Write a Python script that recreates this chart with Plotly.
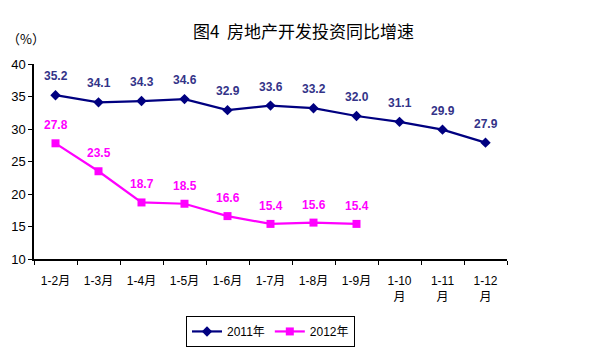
import plotly.graph_objects as go

categories = ["1-2月", "1-3月", "1-4月", "1-5月", "1-6月", "1-7月", "1-8月", "1-9月", "1-10<br>月", "1-11<br>月", "1-12<br>月"]
v2011 = [35.2, 34.1, 34.3, 34.6, 32.9, 33.6, 33.2, 32.0, 31.1, 29.9, 27.9]
v2012 = [27.8, 23.5, 18.7, 18.5, 16.6, 15.4, 15.6, 15.4]

FONT = "Liberation Sans, Arial, Noto Sans CJK SC"
navy = "#000080"
navy_txt = "#333388"
mag = "#FF00FF"

fig = go.Figure()
fig.add_trace(go.Scatter(x=categories, y=v2011, name="2011年", mode="lines+markers",
                         line=dict(color=navy, width=2.2),
                         marker=dict(symbol="diamond", size=8, color=navy)))
fig.add_trace(go.Scatter(x=categories[:len(v2012)], y=v2012, name="2012年", mode="lines+markers",
                         line=dict(color=mag, width=2.2),
                         marker=dict(symbol="square", size=8, color=mag)))

for c, v in zip(categories, v2011):
    fig.add_annotation(x=c, y=v, text=f"{v:.1f}", showarrow=False, yshift=19,
                       font=dict(family=FONT, size=12, color=navy_txt, weight="bold"))
for c, v in zip(categories, v2012):
    fig.add_annotation(x=c, y=v, text=f"{v:.1f}", showarrow=False, yshift=18,
                       font=dict(family=FONT, size=12, color=mag, weight="bold"))

fig.add_annotation(xref="paper", yref="paper", x=0.57, y=1.17, text="图4  房地产开发投资同比增速",
                   showarrow=False, xanchor="center", yanchor="middle",
                   font=dict(family="Noto Sans CJK SC", size=17, color="black"))
fig.add_annotation(xref="paper", yref="paper", x=-0.017, y=1.133, text="（%）",
                   showarrow=False, xanchor="center", yanchor="middle",
                   font=dict(family="Noto Sans CJK SC", size=13, color="black"))

fig.update_layout(
    width=598, height=348,
    margin=dict(l=34, r=91, t=64, b=89, autoexpand=False),
    paper_bgcolor="white", plot_bgcolor="white",
    font=dict(family=FONT, size=12, color="black"),
    showlegend=True,
    legend=dict(orientation="h", x=0.5, xanchor="center", y=-0.292, yanchor="top",
                bordercolor="black", borderwidth=1, font=dict(size=12, family=FONT),
                itemwidth=30, tracegroupgap=0),
    xaxis=dict(type="category", showline=True, linecolor="black", linewidth=1.5,
               ticks="outside", ticklen=4, tickcolor="black", tickson="boundaries",
               showgrid=False, range=[-0.5, 10.5], tickfont=dict(size=12),
               ticklabelstandoff=10, automargin=False),
    yaxis=dict(range=[10, 40], dtick=5, showline=True, linecolor="black", linewidth=1.5,
               ticks="outside", ticklen=4, tickcolor="black", showgrid=False, zeroline=False,
               tickfont=dict(size=13), automargin=False),
)

fig.write_html("out.html")
